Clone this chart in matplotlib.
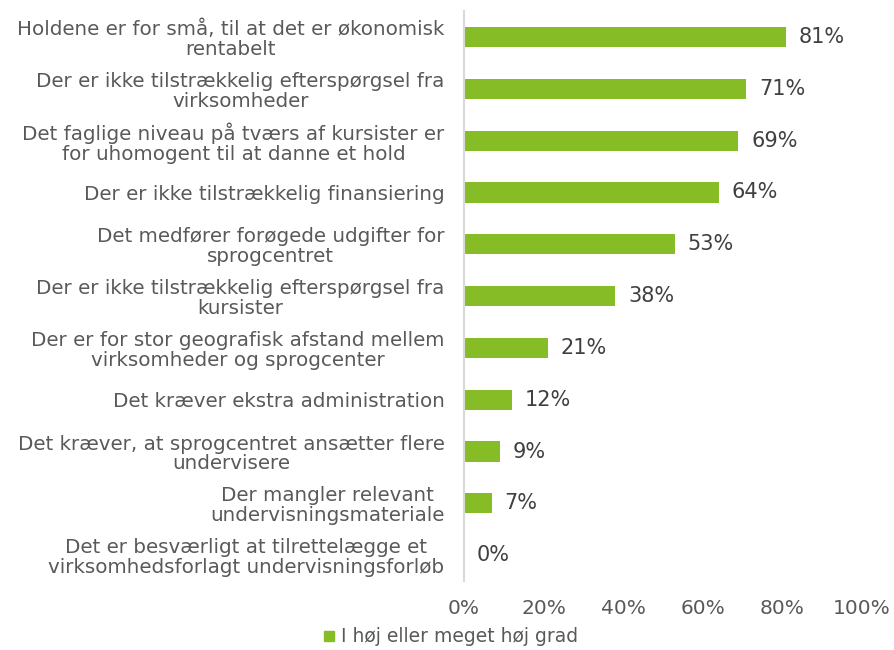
import matplotlib.pyplot as plt
from matplotlib.patches import Patch

# data, top to bottom as in the chart
labels = [
    "Holdene er for små, til at det er økonomisk\nrentabelt",
    "Der er ikke tilstrækkelig efterspørgsel fra\nvirksomheder",
    "Det faglige niveau på tværs af kursister er\nfor uhomogent til at danne et hold",
    "Der er ikke tilstrækkelig finansiering",
    "Det medfører forøgede udgifter for\nsprogcentret",
    "Der er ikke tilstrækkelig efterspørgsel fra\nkursister",
    "Der er for stor geografisk afstand mellem\nvirksomheder og sprogcenter",
    "Det kræver ekstra administration",
    "Det kræver, at sprogcentret ansætter flere\nundervisere",
    "Der mangler relevant\nundervisningsmateriale",
    "Det er besværligt at tilrettelægge et\nvirksomhedsforlagt undervisningsforløb",
]
values = [81, 71, 69, 64, 53, 38, 21, 12, 9, 7, 0]
series_name = "I høj eller meget høj grad"
xticks = [0, 20, 40, 60, 80, 100]

green = "#86BC25"
text_col = "#595959"

plt.rcParams['font.family'] = ['DejaVu Sans']

fig = plt.figure(figsize=(8.94, 6.5), dpi=100)
ax = fig.add_axes([0.519, 0.106, 0.445, 0.877])

y = list(range(len(values)))[::-1]
ax.barh(y, values, height=0.39, color=green, zorder=2)

for yi, v in zip(y, values):
    ax.text(v + 3.2, yi, f"{v}%", va="center", ha="left",
            fontsize=15, color="#404040")

ax.set_xlim(0, 100)
ax.set_ylim(-0.5, len(values) - 0.5)
ax.set_yticks(y)
ax.set_yticklabels(labels, fontsize=14.3, color=text_col,
                   multialignment="center", linespacing=1.05)
ax.set_xticks(xticks)
ax.set_xticklabels([f"{t}%" for t in xticks], fontsize=14.5, color=text_col)
ax.tick_params(axis="both", length=0)
ax.tick_params(axis="y", pad=14)
ax.tick_params(axis="x", pad=13)

for s in ["top", "right", "bottom"]:
    ax.spines[s].set_visible(False)
ax.spines["left"].set_color("#D9D9D9")
ax.spines["left"].set_linewidth(1.5)

fig.legend(handles=[Patch(color=green, label=series_name)],
           loc="center", bbox_to_anchor=(0.505, 0.02), frameon=False,
           fontsize=13.5, labelcolor=text_col, handlelength=0.5, handleheight=0.5,
           handletextpad=0.4)

fig.savefig("out.png", dpi=100)
